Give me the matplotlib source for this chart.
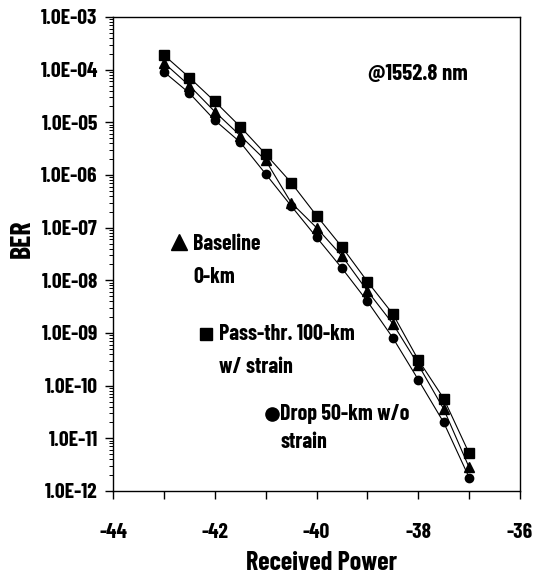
import matplotlib
matplotlib.use('Agg')
import matplotlib.pyplot as plt
import numpy as np
from matplotlib.ticker import LogLocator, FixedLocator, NullFormatter

plt.rcParams['font.family'] = ['Barlow Condensed', 'Roboto Condensed', 'DejaVu Sans']
plt.rcParams['font.weight'] = 'bold'

power = [-43, -42.5, -42, -41.5, -41, -40.5, -40, -39.5, -39, -38.5, -38, -37.5, -37]
ber_baseline = [1.35e-4, 5.0e-5, 1.6e-5, 5.6e-6, 1.9e-6, 3.0e-7, 1.0e-7,
                2.9e-8, 6.3e-9, 1.5e-9, 2.5e-10, 3.6e-11, 2.8e-12]
ber_passthr = [1.9e-4, 7.1e-5, 2.5e-5, 8.3e-6, 2.5e-6, 7.2e-7, 1.7e-7,
               4.3e-8, 9.5e-9, 2.3e-9, 3.1e-10, 5.7e-11, 5.2e-12]
ber_drop = [9.1e-5, 3.6e-5, 1.1e-5, 4.2e-6, 1.05e-6, 2.6e-7, 6.6e-8,
            1.7e-8, 4.0e-9, 8.1e-10, 1.3e-10, 2.0e-11, 1.8e-12]

ytick_vals = [1e-12, 1e-11, 1e-10, 1e-9, 1e-8, 1e-7, 1e-6, 1e-5, 1e-4, 1e-3]
ytick_labels = ['1.0E-12', '1.0E-11', '1.0E-10', '1.0E-09', '1.0E-08',
                '1.0E-07', '1.0E-06', '1.0E-05', '1.0E-04', '1.0E-03']
xtick_vals = [-44, -42, -40, -38, -36]

W, H = 536, 579
fig = plt.figure(figsize=(W/100, H/100), dpi=100)
ax = fig.add_axes([113/W, 1-491/H, (520-113)/W, (491-17)/H])

ax.plot(power, ber_passthr, color='black', lw=0.8, marker='s', ms=6.5, mfc='black', mec='black')
ax.plot(power, ber_baseline, color='black', lw=0.8, marker='^', ms=7, mfc='black', mec='black')
ax.plot(power, ber_drop, color='black', lw=0.8, marker='o', ms=6, mfc='black', mec='black')

ax.set_yscale('log')
ax.set_ylim(1e-12, 1e-3)
ax.set_xlim(-44, -36)
ax.set_yticks(ytick_vals)
ax.set_yticklabels(ytick_labels)
ax.yaxis.set_minor_locator(LogLocator(base=10, subs=np.arange(2, 10)))
ax.yaxis.set_minor_formatter(NullFormatter())
ax.set_xticks(xtick_vals)
ax.set_xticklabels([str(v) for v in xtick_vals])
ax.xaxis.set_minor_locator(FixedLocator(np.arange(-43, -36, 2)))

ax.tick_params(axis='both', which='major', direction='out', length=6, width=1,
               labelsize=15.5, pad=5)
ax.tick_params(axis='y', which='minor', direction='out', length=3, width=0.7)
ax.tick_params(axis='x', which='minor', direction='out', length=6, width=1)
ax.tick_params(axis='x', pad=17)
for s in ax.spines.values():
    s.set_linewidth(1)

# axis titles
fig.text(22/W, 1-239/H, 'BER', rotation=90, ha='center', va='center', fontsize=20, fontweight='bold')
fig.text(322/W, 1-563/H, 'Received Power', ha='center', va='center', fontsize=18.8, fontweight='bold')

# wavelength note
ax.text(0.627, 0.879, '@1552.8 nm', transform=ax.transAxes, ha='left', va='center', fontsize=16.5)

# in-plot legend: symbols and labels
ax.plot([0.162], [0.525], marker='^', ms=11.5, color='black', transform=ax.transAxes, clip_on=False)
ax.text(0.197, 0.521, 'Baseline', transform=ax.transAxes, ha='left', va='center', fontsize=15.8)
ax.text(0.197, 0.451, '0-km', transform=ax.transAxes, ha='left', va='center', fontsize=15.8)
ax.plot([0.229], [0.331], marker='s', ms=8, color='black', transform=ax.transAxes, clip_on=False)
ax.text(0.260, 0.331, 'Pass-thr. 100-km', transform=ax.transAxes, ha='left', va='center', fontsize=15.8)
ax.text(0.260, 0.261, 'w/ strain', transform=ax.transAxes, ha='left', va='center', fontsize=15.8)
ax.plot([0.391], [0.163], marker='o', ms=9.5, color='black', transform=ax.transAxes, clip_on=False)
ax.text(0.410, 0.163, 'Drop 50-km w/o', transform=ax.transAxes, ha='left', va='center', fontsize=15.8)
ax.text(0.412, 0.104, 'strain', transform=ax.transAxes, ha='left', va='center', fontsize=15.8)

fig.savefig('out.png', dpi=100)
